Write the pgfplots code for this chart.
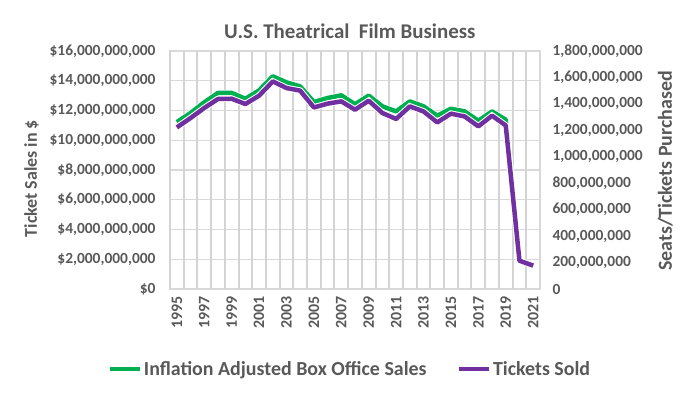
\documentclass[border=0pt]{standalone}
\usepackage{pgfplots}
\pgfplotsset{compat=1.18}
\usepackage{fontspec}
\setmainfont{Carlito}
\definecolor{txt}{HTML}{595959}
\definecolor{gridc}{HTML}{D9D9D9}
\definecolor{vgridc}{HTML}{D4D4D4}
\definecolor{exgreen}{HTML}{00B050}
\definecolor{expurple}{HTML}{7030A0}

% Inflation adjusted box office sales, billions of dollars
\pgfplotstableread{
i year sales
0 1995 11.22
1 1996 11.83
2 1997 12.55
3 1998 13.18
4 1999 13.18
5 2000 12.79
6 2001 13.35
7 2002 14.30
8 2003 13.89
9 2004 13.62
10 2005 12.57
11 2006 12.84
12 2007 13.02
13 2008 12.42
14 2009 13.00
15 2010 12.28
16 2011 11.94
17 2012 12.61
18 2013 12.28
19 2014 11.65
20 2015 12.12
21 2016 11.94
22 2017 11.31
23 2018 11.94
24 2019 11.38
25 2020 1.91
26 2021 1.57
}\salestable

% Tickets sold, millions
\pgfplotstableread{
i year tickets
0 1995 1222
1 1996 1293
2 1997 1369
3 1998 1437
4 1999 1439
5 2000 1399
6 2001 1462
7 2002 1570
8 2003 1520
9 2004 1500
10 2005 1373
11 2006 1402
12 2007 1419
13 2008 1356
14 2009 1424
15 2010 1331
16 2011 1286
17 2012 1381
18 2013 1343
19 2014 1260
20 2015 1326
21 2016 1305
22 2017 1230
23 2018 1311
24 2019 1237
25 2020 214
26 2021 177
}\tickettable

% category boundaries for the vertical gridlines
\pgfplotstableread{
x top
-0.5 16
0.5 16
1.5 16
2.5 16
3.5 16
4.5 16
5.5 16
6.5 16
7.5 16
8.5 16
9.5 16
10.5 16
11.5 16
12.5 16
13.5 16
14.5 16
15.5 16
16.5 16
17.5 16
18.5 16
19.5 16
20.5 16
21.5 16
22.5 16
23.5 16
24.5 16
25.5 16
26.5 16
}\gridtable

\begin{document}
\begin{tikzpicture}
\path[use as bounding box] (0,0) rectangle (700bp,394bp);
\pgfplotsset{
  every axis/.append style={
    scale only axis, width=370bp, height=238bp,
    at={(170bp,105bp)}, anchor=south west,
    xmin=-0.5, xmax=26.5, ymin=0,
    major tick length=0pt, minor tick length=0pt,
    axis line style={gridc, line width=1.2bp},
    tick label style={font=\bfseries\fontsize{15.5}{17}\selectfont, text=txt},
    /pgf/number format/assume math mode=true,
    label style={font=\bfseries\fontsize{18}{20}\selectfont, text=txt},
  }
}
\begin{axis}[
  ymax=16,
  clip=false,
  ytick={0,2,...,16},
  yticklabels={{\$0},{\$2,000,000,000},{\$4,000,000,000},{\$6,000,000,000},{\$8,000,000,000},{\$10,000,000,000},{\$12,000,000,000},{\$14,000,000,000},{\$16,000,000,000}},
  yticklabel style={xshift=-11bp},
  xtick={0,2,...,26},
  xticklabels={1995,1997,1999,2001,2003,2005,2007,2009,2011,2013,2015,2017,2019,2021},
  xticklabel style={rotate=90, anchor=east, font=\bfseries\fontsize{16}{17}\selectfont},
  xticklabel shift=4bp,
  ymajorgrids=true,
  grid style={gridc, line width=1.4bp},
  major grid style={gridc, line width=1.4bp},
  title={U.S. Theatrical\ \ Film Business},
  title style={at={(axis description cs:0.486,1.059)}, anchor=center, font=\bfseries\fontsize{21}{23}\selectfont, text=txt},
  ylabel={Ticket Sales in \$},
  ylabel style={at={(axis description cs:-0.374,0.464)}, anchor=center},
]
\addplot[vgridc, line width=2bp, ycomb, mark=none, forget plot] table[x=x, y=top] {\gridtable};
\addplot[white, line width=6bp, forget plot] table[x=i, y=sales] {\salestable};
\addplot[exgreen, line width=4.5bp, line join=round] table[x=i, y=sales] {\salestable};
\end{axis}
\begin{axis}[
  ymax=1800,
  axis x line=none,
  axis y line*=right,
  ytick={0,200,...,1800},
  yticklabels={{0},{200,000,000},{400,000,000},{600,000,000},{800,000,000},{1,000,000,000},{1,200,000,000},{1,400,000,000},{1,600,000,000},{1,800,000,000}},
  yticklabel style={anchor=west, xshift=9bp},
  ylabel={Seats/Tickets Purchased},
  ylabel style={at={(axis description cs:1.339,0.496)}, anchor=center, font=\bfseries\fontsize{20}{22}\selectfont},
  legend columns=2,
  legend style={at={(axis description cs:0.486,-0.336)}, anchor=center, draw=none, fill=none,
    font=\bfseries\fontsize{20}{22}\selectfont, text=txt,
    /tikz/every even column/.append style={column sep=28bp},
    /tikz/every odd column/.append style={column sep=0bp}},
  legend cell align=left,
  legend image code/.code={\draw[#1] (0bp,0bp) -- (30bp,0bp);},
]
\addlegendimage{exgreen, line width=4.5bp}
\addlegendentry{Inflation Adjusted Box Office Sales}
\addplot[white, line width=6.5bp, forget plot] table[x=i, y=tickets] {\tickettable};
\addplot[expurple, line width=4.5bp, line join=round] table[x=i, y=tickets] {\tickettable};
\addlegendentry{Tickets Sold}
\end{axis}
\end{tikzpicture}
\end{document}
